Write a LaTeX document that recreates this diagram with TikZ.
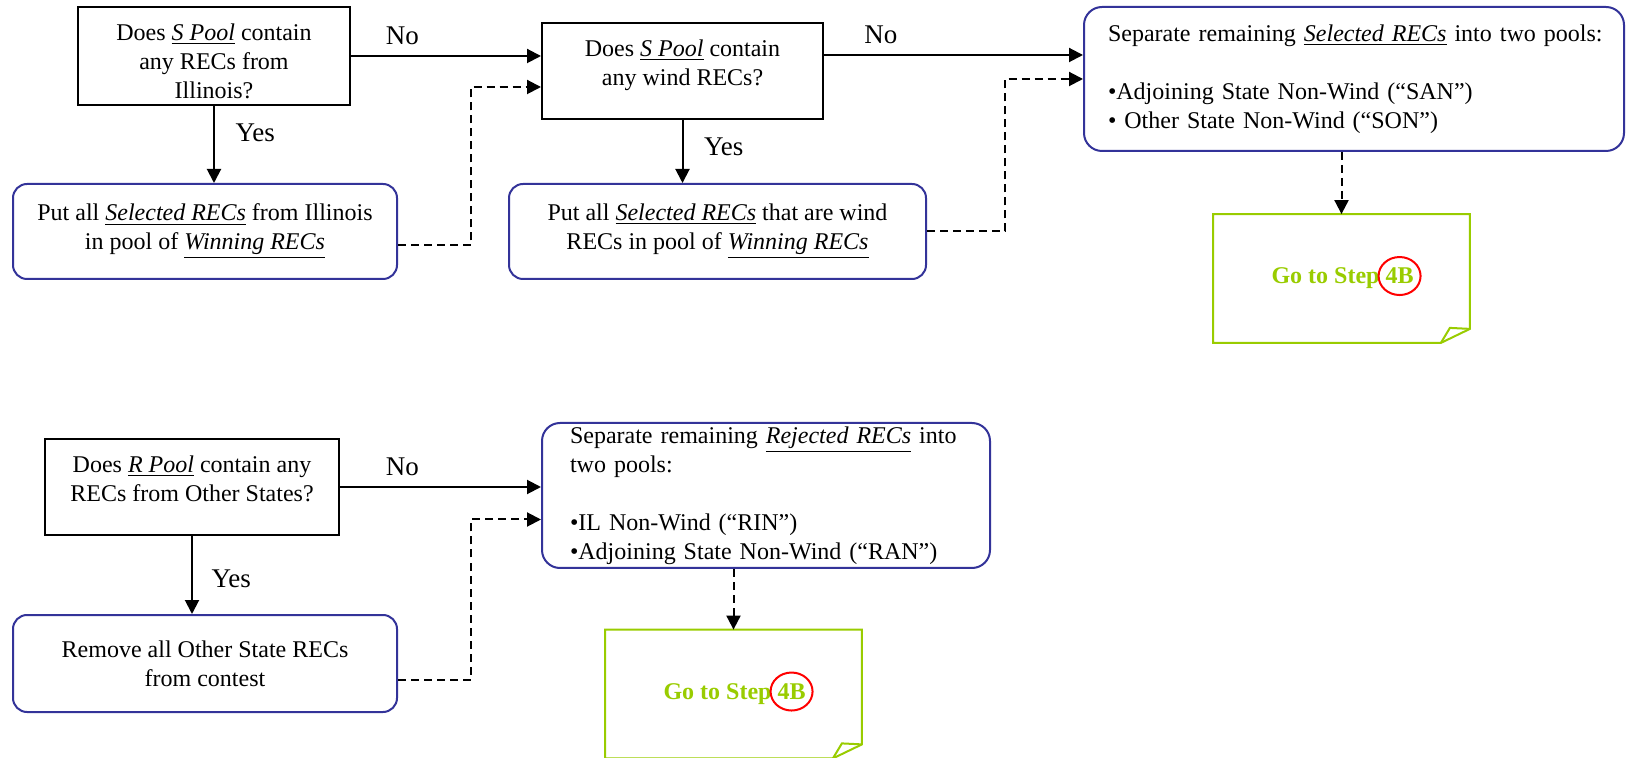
\documentclass[tikz,border=0pt]{standalone}
\usepackage{fontspec}
\setmainfont{Liberation Serif}
\usepackage{tikz}
\usetikzlibrary{arrows.meta, positioning, shapes.geometric}
\definecolor{boxblue}{RGB}{51,51,153}
\definecolor{stepgreen}{RGB}{153,204,0}
\newcommand{\emul}[1]{\underline{\textit{#1}}}

\begin{document}
\begin{tikzpicture}[
    x=0.5pt, y=-0.5pt,
    font=\fontsize{12}{14.5}\selectfont,
    question/.style={draw=black, line width=1pt, minimum height=48pt, align=center},
    action/.style={draw=boxblue, line width=1pt, rounded corners=7pt, minimum height=47.5pt, align=center},
    pools/.style={draw=boxblue, line width=1pt, rounded corners=9pt, align=left, inner ysep=1pt},
    answer/.style={font=\fontsize{13.5}{16}\selectfont},
    page/.style={minimum width=128pt, minimum height=64pt},
    pagefold/.style={draw=stepgreen, line width=1pt},
    goto/.style={text=stepgreen, font=\fontsize{12}{14.5}\selectfont\bfseries},
    ring/.style={ellipse, draw=red, line width=1pt, minimum width=21pt, minimum height=19pt, inner sep=0pt,
                 text=stepgreen, font=\fontsize{12}{14.5}\selectfont\bfseries},
    flow/.style={line width=1pt, -{Triangle[length=7pt, width=7pt]}},
    dashline/.style={dash pattern=on 4pt off 2.5pt}
]
   \useasboundingbox (0,0) rectangle (1627,758);

   % Selected RECs
   \node[question, minimum width=136pt] (q1) at (214,56) {\rule{0pt}{13.5pt}Does \emul{S Pool} contain\\any RECs from\\Illinois?};
   \node[action, minimum width=192pt] (a1) at (205,231.5) {Put all \emul{Selected RECs} from Illinois\\in pool of \emul{Winning RECs}};
   \node[question, minimum width=140.5pt] (q2) at (682.5,71) {Does \emul{S Pool} contain\\any wind RECs?\rule[-8pt]{0pt}{8pt}};
   \node[action, minimum width=208.5pt] (a2) at (717.5,231.5) {Put all \emul{Selected RECs} that are wind\\RECs in pool of \emul{Winning RECs}};
   \node[pools, text width=246pt, inner xsep=12pt, minimum height=72pt] (s1) at (1354,79) {\mbox{Separate remaining \emul{Selected RECs} into two pools:}\\[14.5pt]•Adjoining State Non-Wind (“SAN”)\\• Other State Non-Wind (“SON”)};
   \node[page] (g1) at (1341.5,278.5) {};
   \node[goto] (t1) at ([xshift=-8pt]g1.center) {Go to Step};
   \node[ring, anchor=base] (k1) at ([xshift=6.5pt]t1.base east) {4B};

   % Rejected RECs
   \node[question, minimum width=147pt] (q3) at (192,487) {Does \emul{R Pool} contain any\\RECs from Other States?\rule[-8.6pt]{0pt}{8.6pt}};
   \node[action, minimum width=192pt, minimum height=48.5pt] (r1) at (205,663.5) {Remove all Other State RECs\\from contest};
   \node[pools, text width=196pt, inner xsep=14pt, minimum height=72.5pt] (r2) at (766,495.5) {Separate remaining \emul{Rejected RECs} into\\two pools:\\[14.5pt]•IL Non-Wind (“RIN”)\\•Adjoining State Non-Wind (“RAN”)};
   \node[page] (g2) at (733.5,694) {};
   \node[goto] (t2) at ([xshift=-8pt]g2.center) {Go to Step};
   \node[ring, anchor=base] (k2) at ([xshift=6.5pt]t2.base east) {4B};

   % Step pages
   \draw[pagefold] (g1.north west) -- (g1.north east) -- ([yshift=7pt]g1.south east)
      -- ([xshift=-14.5pt]g1.south east) -- (g1.south west) -- cycle;
   \draw[pagefold] ([xshift=-14.5pt]g1.south east) -- ([xshift=-10pt, yshift=7.5pt]g1.south east) -- ([yshift=7pt]g1.south east);
   \draw[pagefold] (g2.north west) -- (g2.north east) -- ([yshift=7pt]g2.south east)
      -- ([xshift=-14.5pt]g2.south east) -- (g2.south west) -- cycle;
   \draw[pagefold] ([xshift=-14.5pt]g2.south east) -- ([xshift=-10pt, yshift=7.5pt]g2.south east) -- ([yshift=7pt]g2.south east);

   % Flow, top row
   \draw[flow] (q1.east) -- node[answer, pos=0.27, above=2pt] {No} (q1.east -| q2.west);
   \draw[flow] (q1.south) -- node[answer, pos=0.35, right=7pt] {Yes} (q1.south |- a1.north);
   \draw[flow, dashline] ([yshift=-7pt]a1.east) -- ++(36.5pt,0) |- ([yshift=-8pt]q2.west);
   \draw[flow] ([yshift=8pt]q2.east) -- node[answer, pos=0.22, above=2pt] {No} ([yshift=8pt]q2.east -| s1.west);
   \draw[flow] (q2.south) -- node[answer, pos=0.42, right=7pt] {Yes} (q2.south |- a2.north);
   \draw[flow, dashline] (a2.east) -- ++(39pt,0) |- (s1.west);
   \draw[flow, dashline] (s1.south -| g1.north) -- (g1.north);

   % Flow, bottom row
   \draw[flow] (q3.east) -- node[answer, pos=0.31, above=2pt] {No} (q3.east -| r2.west);
   \draw[flow] (q3.south) -- node[answer, pos=0.55, right=6pt] {Yes} (q3.south |- r1.north);
   \draw[flow, dashline] ([yshift=-8pt]r1.east) -- ++(36.5pt,0) |- ([yshift=-12pt]r2.west);
   \draw[flow, dashline] (r2.south -| g2.north) -- (g2.north);

\end{tikzpicture}
\end{document}
